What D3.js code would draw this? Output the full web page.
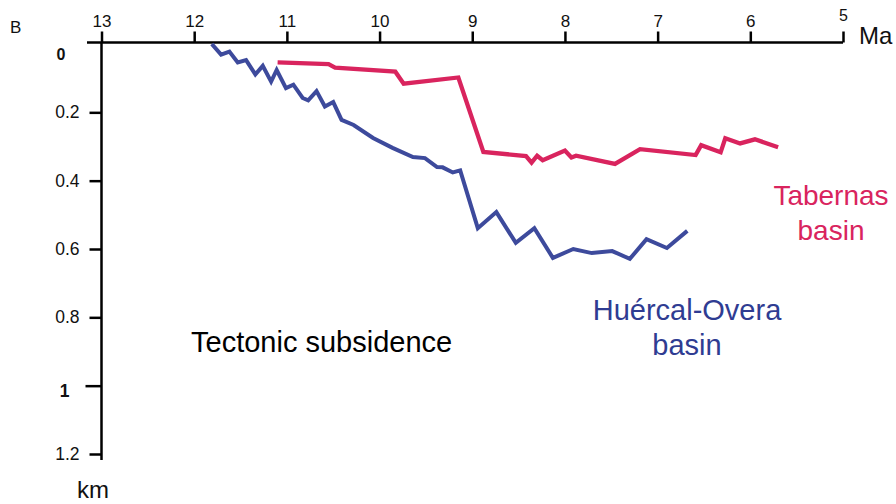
<!DOCTYPE html>
<html>
<head>
<meta charset="utf-8">
<script src="https://cdn.jsdelivr.net/npm/d3@7"></script>
<style>
  html, body { margin: 0; padding: 0; background: #fff; }
  svg { display: block; font-family: "Liberation Sans", Arial, sans-serif; }
</style>
</head>
<body>
<svg id="chart" width="896" height="504"></svg>
<script>
// Age (Ma) and tectonic subsidence (km) for each basin
const huercalAge = [11.81, 11.71, 11.62, 11.53, 11.44, 11.34, 11.26, 11.17, 11.11, 11.01,
  10.93, 10.83, 10.77, 10.68, 10.59, 10.50, 10.41, 10.28, 10.07, 9.86,
  9.64, 9.51, 9.38, 9.32, 9.21, 9.13, 8.94, 8.74, 8.53, 8.33,
  8.13, 7.91, 7.71, 7.49, 7.30, 7.12, 6.90, 6.68];
const huercalDepth = [0.000, 0.031, 0.022, 0.054, 0.047, 0.089, 0.064, 0.110, 0.076, 0.129,
  0.119, 0.158, 0.165, 0.138, 0.183, 0.170, 0.222, 0.237, 0.275, 0.304,
  0.331, 0.334, 0.360, 0.361, 0.376, 0.370, 0.539, 0.492, 0.582, 0.539,
  0.626, 0.600, 0.612, 0.606, 0.629, 0.571, 0.597, 0.547];

const tabernasAge = [11.10, 10.55, 10.48, 9.83, 9.74, 9.15, 8.88, 8.42, 8.36, 8.30,
  8.24, 8.00, 7.93, 7.88, 7.46, 7.19, 6.59, 6.53, 6.32, 6.27,
  6.11, 5.95, 5.70];
const tabernasDepth = [0.054, 0.059, 0.069, 0.081, 0.116, 0.098, 0.316, 0.328, 0.347, 0.327,
  0.340, 0.312, 0.332, 0.327, 0.351, 0.308, 0.325, 0.296, 0.317, 0.276,
  0.291, 0.279, 0.302];

const ageTicks = [13, 12, 11, 10, 9, 8, 7, 6, 5];
const depthTicks = [0.2, 0.4, 0.6, 0.8, 1, 1.2];
const depthTickLabels = ["0.2", "0.4", "0.6", "0.8", "1", "1.2"];

const svg = d3.select("#chart");
const axisY = 42.5;   // horizontal time axis runs along the top
const axisX = 101.5;  // vertical depth axis

const x = d3.scaleLinear().domain([13, 5]).range([101.5, 843]);
const y = d3.scaleLinear().domain([0, 1.2]).range([44, 454]);

const blue = "#3d4a9c";
const red = "#d9245e";
const font = "Liberation Sans, Arial, sans-serif";

// Panel letter
svg.append("text").attr("x", 10).attr("y", 33)
  .attr("font-size", 17).attr("fill", "#111").text("B");

// Time axis (top)
const gx = svg.append("g").attr("transform", `translate(0,${axisY})`)
  .call(d3.axisTop(x).tickValues(ageTicks).tickSize(11).tickSizeOuter(0).tickFormat(d3.format("d")));
gx.select(".domain").remove();
gx.selectAll(".tick line").attr("stroke", "#000").attr("stroke-width", 2.5);
gx.selectAll(".tick text")
  .attr("font-size", 17).attr("fill", "#111").attr("font-family", font)
  .attr("y", -16)
  .filter(d => d === 5).attr("y", -22).attr("font-size", 16);
svg.append("line")
  .attr("x1", 87).attr("x2", x(5)).attr("y1", axisY).attr("y2", axisY)
  .attr("stroke", "#000").attr("stroke-width", 2.5);
svg.append("text").attr("x", 859).attr("y", 44)
  .attr("font-size", 24).attr("fill", "#111").text("Ma");

// Depth axis (left)
const gy = svg.append("g").attr("transform", `translate(${axisX},0)`)
  .call(d3.axisLeft(y).tickValues(depthTicks).tickSize(12).tickSizeOuter(0)
    .tickFormat((d, i) => depthTickLabels[i]));
gy.select(".domain").remove();
gy.selectAll(".tick line").attr("stroke", "#000").attr("stroke-width", 2.5);
gy.selectAll(".tick text")
  .attr("font-size", 17.5).attr("fill", "#111").attr("font-family", font)
  .attr("x", -22);
gy.selectAll(".tick text").filter(d => d === 1)
  .attr("font-weight", "bold").attr("x", -32).attr("dy", "0.6em");
gy.selectAll(".tick line").filter(d => d === 1).attr("x2", -16);
svg.append("text").attr("x", 61).attr("y", y(0) + 16)
  .attr("text-anchor", "middle").attr("font-size", 16).attr("font-weight", "bold")
  .attr("fill", "#111").text("0");
svg.append("line")
  .attr("x1", axisX).attr("x2", axisX).attr("y1", axisY).attr("y2", 460)
  .attr("stroke", "#000").attr("stroke-width", 2.5);
svg.append("text").attr("x", 77).attr("y", 498)
  .attr("font-size", 24).attr("fill", "#111").text("km");

// Subsidence curves
const line = d3.line().x(d => x(d[0])).y(d => y(d[1]));
svg.append("path")
  .datum(huercalAge.map((a, i) => [a, huercalDepth[i]]))
  .attr("d", line).attr("fill", "none").attr("stroke", blue)
  .attr("stroke-width", 4).attr("stroke-linejoin", "miter").attr("stroke-miterlimit", 4);
svg.append("path")
  .datum(tabernasAge.map((a, i) => [a, tabernasDepth[i]]))
  .attr("d", line).attr("fill", "none").attr("stroke", red)
  .attr("stroke-width", 4.3).attr("stroke-linejoin", "miter").attr("stroke-miterlimit", 4);

// Labels
svg.append("text").attr("x", 191).attr("y", 352)
  .attr("font-size", 29).attr("fill", "#000").text("Tectonic subsidence");

const tab = svg.append("text").attr("text-anchor", "middle").attr("font-size", 28).attr("fill", red);
tab.append("tspan").attr("x", 831).attr("y", 205).text("Tabernas");
tab.append("tspan").attr("x", 831).attr("y", 240).text("basin");

const hue = svg.append("text").attr("text-anchor", "middle").attr("font-size", 29).attr("fill", "#2f3c92");
hue.append("tspan").attr("x", 687).attr("y", 320).text("Huércal-Overa");
hue.append("tspan").attr("x", 687).attr("y", 355).text("basin");
</script>
</body>
</html>
